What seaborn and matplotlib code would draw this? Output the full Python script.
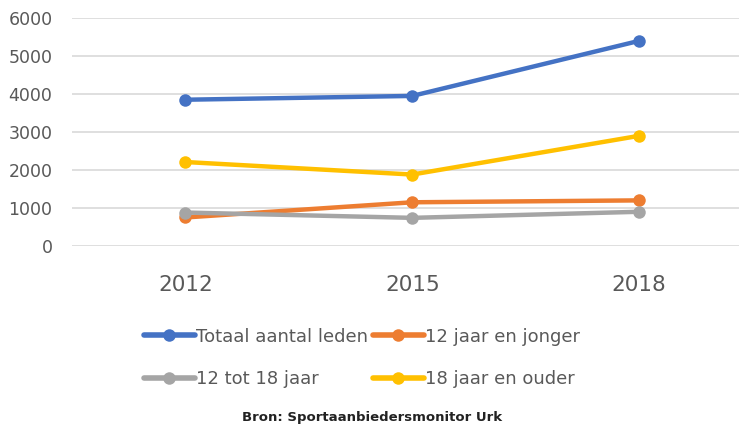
import matplotlib
matplotlib.use("Agg")
import matplotlib.pyplot as plt
import seaborn as sns
import pandas as pd
from matplotlib.lines import Line2D

years = ["2012", "2015", "2018"]
series_names = ["Totaal aantal leden", "12 jaar en jonger", "12 tot 18 jaar", "18 jaar en ouder"]
totaal = [3850, 3950, 5400]
jonger12 = [750, 1150, 1200]
tot18 = [880, 740, 900]
ouder18 = [2210, 1880, 2900]
colors = ["#4472C4", "#ED7D31", "#A5A5A5", "#FFC000"]
source = "Bron: Sportaanbiedersmonitor Urk"

rows = []
for name, vals in zip(series_names, [totaal, jonger12, tot18, ouder18]):
    for y, v in zip(years, vals):
        rows.append({"jaar": y, "serie": name, "waarde": v})
df = pd.DataFrame(rows)

sns.set_style("white")
plt.rcParams["font.family"] = ["DejaVu Sans"]

fig = plt.figure(figsize=(7.39, 4.30), dpi=100)
ax = fig.add_axes([0.0974, 0.428, 0.9026, 0.530])

sns.lineplot(data=df, x="jaar", y="waarde", hue="serie", hue_order=series_names,
             palette=colors, marker="o", markersize=9, markeredgewidth=0,
             linewidth=3.2, ax=ax, legend=False, sort=False)

ax.set_ylim(0, 6000)
ax.set_yticks(range(0, 6001, 1000))
ax.set_xlim(-0.5, 2.44)
ax.yaxis.grid(True, color="#D9D9D9", linewidth=1.2)
ax.set_axisbelow(True)
for s in ax.spines.values():
    s.set_visible(False)
ax.set_xlabel("")
ax.set_ylabel("")
ax.tick_params(axis="y", labelsize=12.5, colors="#595959", length=0, pad=14)
ax.tick_params(axis="x", labelsize=15.5, colors="#595959", length=0, pad=21)

handles = [Line2D([0], [0], color=c, linewidth=4, marker="o", markersize=9,
                  markeredgewidth=0) for c in colors]
order = [0, 2, 1, 3]
fig.legend([handles[i] for i in order], [series_names[i] for i in order],
           ncol=2, loc="upper left",
           bbox_to_anchor=(0.195, 0.238), frameon=False, fontsize=13,
           labelcolor="#595959", handlelength=2.8, handletextpad=0.1,
           columnspacing=0.25, labelspacing=1.35, borderpad=0, borderaxespad=0)

fig.text(0.503, 0.028, source, ha="center", va="center", fontsize=9.5,
         color="#222222", fontweight="semibold")

fig.savefig("out.png", dpi=100)
